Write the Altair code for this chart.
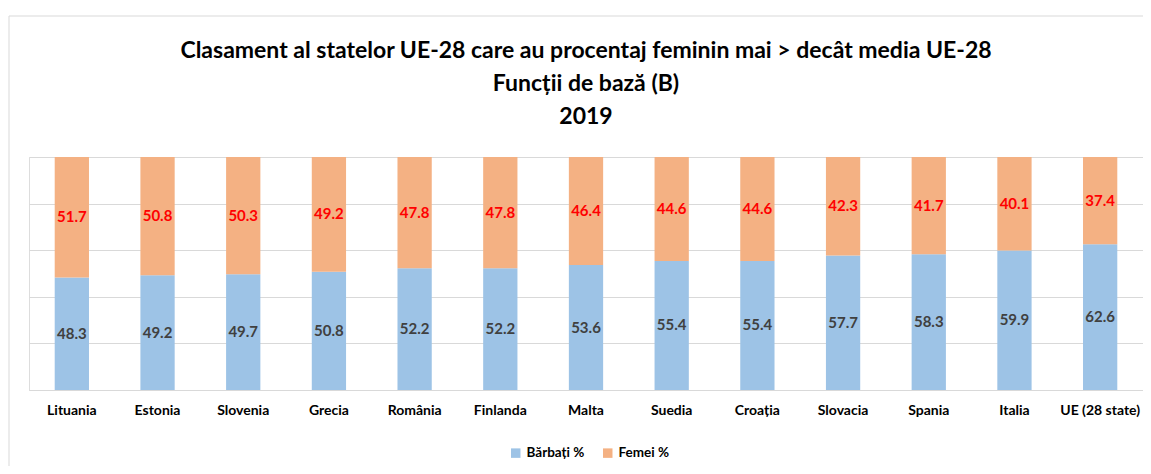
import altair as alt
import pandas as pd

countries = ["Lituania", "Estonia", "Slovenia", "Grecia", "România", "Finlanda", "Malta",
             "Suedia", "Croația", "Slovacia", "Spania", "Italia", "UE (28 state)"]
barbati = [48.3, 49.2, 49.7, 50.8, 52.2, 52.2, 53.6, 55.4, 55.4, 57.7, 58.3, 59.9, 62.6]
femei = [51.7, 50.8, 50.3, 49.2, 47.8, 47.8, 46.4, 44.6, 44.6, 42.3, 41.7, 40.1, 37.4]
series = ["Bărbați %", "Femei %"]
colors = ["#9DC3E6", "#F4B183"]
label_colors = ["#404040", "#FF0000"]

rows = []
for c, b, f in zip(countries, barbati, femei):
    rows.append({"country": c, "series": series[0], "value": b, "ord": 0})
    rows.append({"country": c, "series": series[1], "value": f, "ord": 1})
df = pd.DataFrame(rows)

W, H = 1114, 233
FONT = "Lato"

base = alt.Chart(df).transform_stack(
    stack="value", groupby=["country"], sort=[alt.SortField("ord", order="ascending")],
    as_=["y0", "y1"]
).transform_calculate(mid="(datum.y0 + datum.y1) / 2")

xenc = alt.X("country:N", sort=countries, title=None,
             scale=alt.Scale(paddingInner=0.6, paddingOuter=0.3),
             axis=alt.Axis(labelAngle=0, labelFont=FONT, labelFontSize=14, labelFontWeight="bold",
                           labelColor="#000000", ticks=False, domainColor="#D9D9D9",
                           labelPadding=13))

bars = base.mark_bar().encode(
    x=xenc,
    y=alt.Y("y0:Q", scale=alt.Scale(domain=[0, 100]), title=None,
            axis=alt.Axis(values=[0, 20, 40, 60, 80, 100], labels=False, ticks=False,
                          domain=False, gridColor="#D9D9D9")),
    y2="y1:Q",
    color=alt.Color("series:N", scale=alt.Scale(domain=series, range=colors),
                    legend=alt.Legend(title=None, orient="none", direction="horizontal",
                                      legendX=480, legendY=289,
                                      symbolType="square", symbolSize=90, symbolStrokeWidth=0,
                                      labelFont=FONT, labelFontSize=13.5, labelFontWeight="bold",
                                      labelColor="#000000", columnPadding=16)),
)

labels = base.mark_text(font=FONT, fontSize=15, fontWeight="bold", baseline="middle").encode(
    x=alt.X("country:N", sort=countries),
    y=alt.Y("mid:Q"),
    text=alt.Text("value:Q", format=".1f"),
    color=alt.Color("series:N", scale=alt.Scale(domain=series, range=label_colors), legend=None),
)

border = alt.Chart(pd.DataFrame({"k": [0]})).mark_rect(
    fill=None, stroke="#D9D9D9", strokeWidth=1, clip=False
).encode(x=alt.value(-20), x2=alt.value(W + 40), y=alt.value(-141), y2=alt.value(H + 120))

chart = alt.layer(border, bars, labels).resolve_scale(color="independent").properties(
    width=W, height=H,
    title=alt.Title(
        ["Clasament al statelor UE-28 care au procentaj feminin mai > decât media UE-28",
         "Funcții de bază (B)", "2019"],
        font=FONT, fontSize=23, fontWeight="bold", color="#000000", lineHeight=33,
        anchor="middle", offset=-113),
    padding={"left": 21, "top": 149, "right": 0, "bottom": 76},
    autosize=alt.AutoSizeParams(type="none"),
).configure_view(stroke=None).configure(background="#FFFFFF")

chart.save("out.html", embed_options={"renderer": "svg", "actions": False})
